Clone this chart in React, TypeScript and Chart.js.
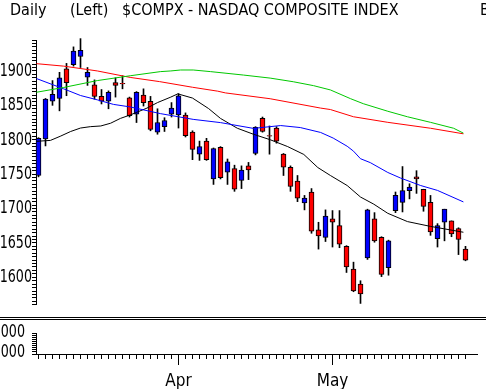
import { useEffect, useRef } from 'react';
import { Chart, registerables } from 'chart.js';

Chart.register(...registerables);

const FONT = "'Liberation Sans Narrow', 'DejaVu Sans Condensed', 'Arial Narrow', sans-serif";

// Daily candles, $COMPX (index 0 = first trading day shown)
const opens = [1748, 1801, 1856, 1860, 1903, 1909, 1921, 1891, 1880, 1863, 1856, 1883, 1882, 1861, 1837, 1865, 1856, 1811, 1819, 1837, 1836, 1836, 1811, 1779, 1798, 1743, 1789, 1753, 1758, 1741, 1762, 1780, 1831, 1806, 1817, 1779, 1760, 1740, 1708, 1724, 1669, 1658, 1685, 1675, 1645, 1612, 1590, 1628, 1685, 1658, 1614, 1697, 1709, 1726, 1746, 1728, 1709, 1656, 1680, 1682, 1671, 1641];
const highs = [1803, 1860, 1886, 1898, 1911, 1935, 1947, 1905, 1887, 1873, 1871, 1890, 1893, 1862, 1870, 1874, 1863, 1845, 1832, 1854, 1867, 1839, 1813, 1798, 1802, 1788, 1790, 1772, 1763, 1762, 1767, 1819, 1833, 1820, 1819, 1780, 1762, 1748, 1719, 1729, 1680, 1698, 1697, 1697, 1646, 1622, 1595, 1699, 1694, 1659, 1654, 1724, 1761, 1736, 1755, 1728, 1719, 1678, 1699, 1682, 1672, 1645];
const lows = [1746, 1791, 1850, 1842, 1864, 1907, 1905, 1879, 1859, 1852, 1845, 1862, 1874, 1833, 1825, 1849, 1813, 1808, 1812, 1833, 1817, 1804, 1771, 1770, 1770, 1735, 1743, 1735, 1725, 1729, 1742, 1778, 1811, 1779, 1795, 1748, 1725, 1710, 1698, 1664, 1641, 1652, 1644, 1643, 1607, 1579, 1562, 1626, 1651, 1601, 1603, 1694, 1695, 1714, 1722, 1696, 1661, 1644, 1653, 1659, 1633, 1624];
const closes = [1802, 1859, 1866, 1890, 1883, 1929, 1930, 1898, 1863, 1856, 1869, 1879, 1881, 1835, 1869, 1854, 1815, 1825, 1828, 1846, 1864, 1806, 1786, 1790, 1771, 1787, 1745, 1768, 1728, 1756, 1756, 1818, 1812, 1805, 1798, 1760, 1732, 1715, 1715, 1667, 1660, 1689, 1680, 1648, 1615, 1580, 1576, 1698, 1653, 1604, 1653, 1719, 1726, 1731, 1743, 1703, 1666, 1675, 1699, 1663, 1655, 1625];

// Moving averages (x = trading-day index)
const maBlackX = [-0.3, 1.7, 3.1, 4.6, 6, 7.4, 8.9, 10.3, 11.7, 13.1, 15.5, 17, 18.9, 19.9, 22, 24.3, 26, 28.4, 30.7, 33.1, 35.6, 37.9, 39.9, 41.7, 44.1, 46, 47.9, 49.9, 52.7, 56, 60.7];
const maBlackY = [1797.7, 1799, 1805, 1812, 1817, 1819, 1820, 1824, 1831, 1836, 1846, 1854, 1862, 1866.7, 1860.6, 1845.3, 1831, 1816.7, 1808, 1800, 1790, 1778.6, 1759.6, 1748, 1733.4, 1716.7, 1706.3, 1693, 1681, 1674, 1665.5];
const maBlueX = [-0.3, 3.6, 6, 8.4, 10.7, 13.1, 17.4, 22.1, 26, 30.7, 34.6, 37.4, 40.3, 42.1, 44.1, 45, 46, 47.4, 49.9, 51.7, 54.6, 57, 60.7];
const maBlueY = [1889, 1874, 1864.3, 1858, 1851.4, 1847.7, 1838, 1829.6, 1824.9, 1816.5, 1820.6, 1817.7, 1810.6, 1802.4, 1790.5, 1783.4, 1772.4, 1766.7, 1752.4, 1744.4, 1733.4, 1726.3, 1709.6];
const maGreenX = [-0.3, 3.6, 8.4, 13.1, 17.4, 18.9, 20.3, 22.1, 24.6, 29.3, 33.1, 36.4, 39.3, 41.7, 44.6, 46.4, 49.9, 52.7, 56, 59.3, 60.7];
const maGreenY = [1869, 1876, 1886, 1893, 1899, 1900, 1901.4, 1901.4, 1899, 1894, 1889.6, 1884.3, 1878.6, 1872.4, 1859.6, 1852.4, 1841.4, 1833.4, 1825.3, 1816.7, 1809.6];
const maRedX = [-0.3, 3.6, 8.4, 13.1, 17.3, 22, 25.6, 26.7, 33.1, 40.3, 41.7, 45, 49.9, 56, 60.7];
const maRedY = [1910.6, 1907, 1900, 1890.6, 1884.5, 1876.3, 1870.6, 1868.1, 1859.6, 1846, 1843.9, 1833.4, 1825.3, 1816.7, 1808.6];

// Axis / label definitions
const priceLabelValues = [1600, 1650, 1700, 1750, 1800, 1850, 1900];
const volumeLabelValues = [1000, 2000];
const monthTickIndex = [20, 42];
const monthTickText = ['Apr', 'May'];
const headerTexts = ['Daily', '(Left)', '$COMPX - NASDAQ COMPOSITE INDEX', 'B'];

const X_MIN = -0.357;
const X_MAX = 62.643;
const P_MIN = 1560;
const P_MAX = 1945;

function narrowText(ctx: CanvasRenderingContext2D, text: string, x: number, y: number, sx: number) {
  ctx.save();
  ctx.translate(x, y);
  ctx.scale(sx, 1);
  ctx.textAlign = 'right';
  ctx.textBaseline = 'middle';
  ctx.fillText(text, 0, 0);
  ctx.restore();
}

export default function App() {
  const topRef = useRef<HTMLCanvasElement>(null);
  const botRef = useRef<HTMLCanvasElement>(null);

  useEffect(() => {
    document.body.style.margin = '0';
    const idx = opens.map((_, i) => i);
    const bodyColors = idx.map(i => (closes[i] > opens[i] ? '#0000FF' : '#FF0000'));

    const headerPlugin = {
      id: 'header',
      afterDraw(chart: any) {
        const ctx = chart.ctx;
        ctx.save();
        ctx.fillStyle = '#000';
        ctx.font = `16px ${FONT}`;
        ctx.textBaseline = 'alphabetic';
        ctx.textAlign = 'left';
        const xs = [10, 70, 122, 480];
        headerTexts.forEach((t, i) => ctx.fillText(t, xs[i], 15));
        ctx.font = `17px ${FONT}`;
        const ys = chart.scales.y;
        priceLabelValues.forEach(v => narrowText(ctx, String(v), 32, ys.getPixelForValue(v) + 0.5, 0.83));
        ctx.restore();
      },
    };

    const line = (xs: number[], ys: number[], color: string) => ({
      type: 'line' as const,
      data: xs.map((x, i) => ({ x, y: ys[i] })),
      borderColor: color,
      borderWidth: 1,
      pointRadius: 0,
      fill: false,
      tension: 0,
      order: 0,
    });

    const top = new Chart(topRef.current!, {
      type: 'bar',
      data: {
        datasets: [
          line(maGreenX, maGreenY, '#00C800'),
          line(maRedX, maRedY, '#FF0000'),
          line(maBlueX, maBlueY, '#0000FF'),
          line(maBlackX, maBlackY, '#000000'),
          {
            type: 'bar',
            data: idx.map(i => ({ x: i, y: [opens[i], closes[i]] })) as any,
            backgroundColor: bodyColors,
            borderColor: '#000',
            borderWidth: 1,
            borderSkipped: false,
            barThickness: 5,
            grouped: false,
            clip: false as any,
            order: 1,
          },
          {
            type: 'bar',
            data: idx.map(i => ({ x: i, y: [lows[i], highs[i]] })) as any,
            backgroundColor: '#000',
            borderWidth: 0,
            barThickness: 1,
            grouped: false,
            clip: false as any,
            order: 2,
          },
        ] as any,
      },
      options: {
        responsive: false,
        animation: false,
        events: [],
        layout: { padding: { top: 40, right: 9, bottom: 6, left: 0 } },
        plugins: { legend: { display: false }, tooltip: { enabled: false } },
        scales: {
          x: {
            type: 'linear',
            display: false,
            min: X_MIN,
            max: X_MAX,
            offset: false,
            grid: { offset: false },
          },
          y: {
            type: 'linear',
            position: 'left',
            min: P_MIN,
            max: P_MAX,
            afterBuildTicks: (scale: any) => {
              const t = [];
              for (let v = P_MIN; v <= P_MAX; v += 5) t.push({ value: v });
              scale.ticks = t;
            },
            afterFit: (scale: any) => { scale.width = 36; },
            ticks: {
              autoSkip: false,
              padding: 1,
              color: '#000',
              font: { family: FONT, size: 17 },
              callback: () => '',
            },
            grid: { drawOnChartArea: false, tickLength: 4, color: '#000', tickWidth: 1 },
            border: { display: true, color: '#000', width: 1 },
          },
        },
      } as any,
      plugins: [headerPlugin],
    });

    const lowerPlugin = {
      id: 'lowerDecor',
      afterDraw(chart: any) {
        const ctx = chart.ctx;
        ctx.save();
        ctx.fillStyle = '#000';
        ctx.fillRect(0, 1, chart.width, 1);
        ctx.fillRect(0, 3, chart.width, 1);
        const xs = chart.scales.x;
        const b = chart.chartArea.bottom;
        monthTickIndex.forEach(i => {
          const px = Math.floor(xs.getPixelForValue(i));
          ctx.fillRect(px, b, 1, 11);
        });
        ctx.font = `17px ${FONT}`;
        const ys = chart.scales.y;
        volumeLabelValues.forEach(v => narrowText(ctx, String(v), 25, ys.getPixelForValue(v) - 1, 0.83));
        ctx.restore();
      },
    };

    const bot = new Chart(botRef.current!, {
      type: 'bar',
      data: { datasets: [] },
      options: {
        responsive: false,
        animation: false,
        events: [],
        layout: { padding: { top: 11, right: 9, bottom: 0, left: 0 } },
        plugins: { legend: { display: false }, tooltip: { enabled: false } },
        scales: {
          x: {
            type: 'linear',
            min: X_MIN,
            max: X_MAX,
            offset: false,
            afterBuildTicks: (scale: any) => {
              scale.ticks = idx.map(i => ({ value: i }));
            },
            afterFit: (scale: any) => { scale.height = 35; },
            ticks: {
              autoSkip: false,
              maxRotation: 0,
              minRotation: 0,
              padding: 12,
              color: '#000',
              font: { family: FONT, size: 17 },
              callback: (v: any) => {
                const k = monthTickIndex.indexOf(Number(v));
                return k >= 0 ? monthTickText[k] : '';
              },
            },
            grid: { drawOnChartArea: false, offset: false, tickLength: 5, color: '#000' },
            border: { display: true, color: '#000' },
          },
          y: {
            type: 'linear',
            position: 'left',
            min: 1000,
            max: 2000,
            afterBuildTicks: (scale: any) => {
              const t = [];
              for (let v = 1000; v <= 2000; v += 100) t.push({ value: v });
              scale.ticks = t;
            },
            afterFit: (scale: any) => { scale.width = 36; },
            ticks: {
              autoSkip: false,
              padding: 7,
              color: '#000',
              font: { family: FONT, size: 17 },
              callback: () => '',
            },
            grid: { drawOnChartArea: false, tickLength: 4, color: '#000' },
            border: { display: true, color: '#000' },
          },
        },
      } as any,
      plugins: [lowerPlugin],
    });

    return () => {
      top.destroy();
      bot.destroy();
    };
  }, []);

  return (
    <div style={{ position: 'absolute', left: 0, top: 0, width: 486, height: 389, background: '#fff', overflow: 'hidden' }}>
      <canvas ref={topRef} width={486} height={316} style={{ position: 'absolute', left: 0, top: 0, width: 486, height: 316 }} />
      <canvas ref={botRef} width={486} height={73} style={{ position: 'absolute', left: 0, top: 316, width: 486, height: 73 }} />
    </div>
  );
}
